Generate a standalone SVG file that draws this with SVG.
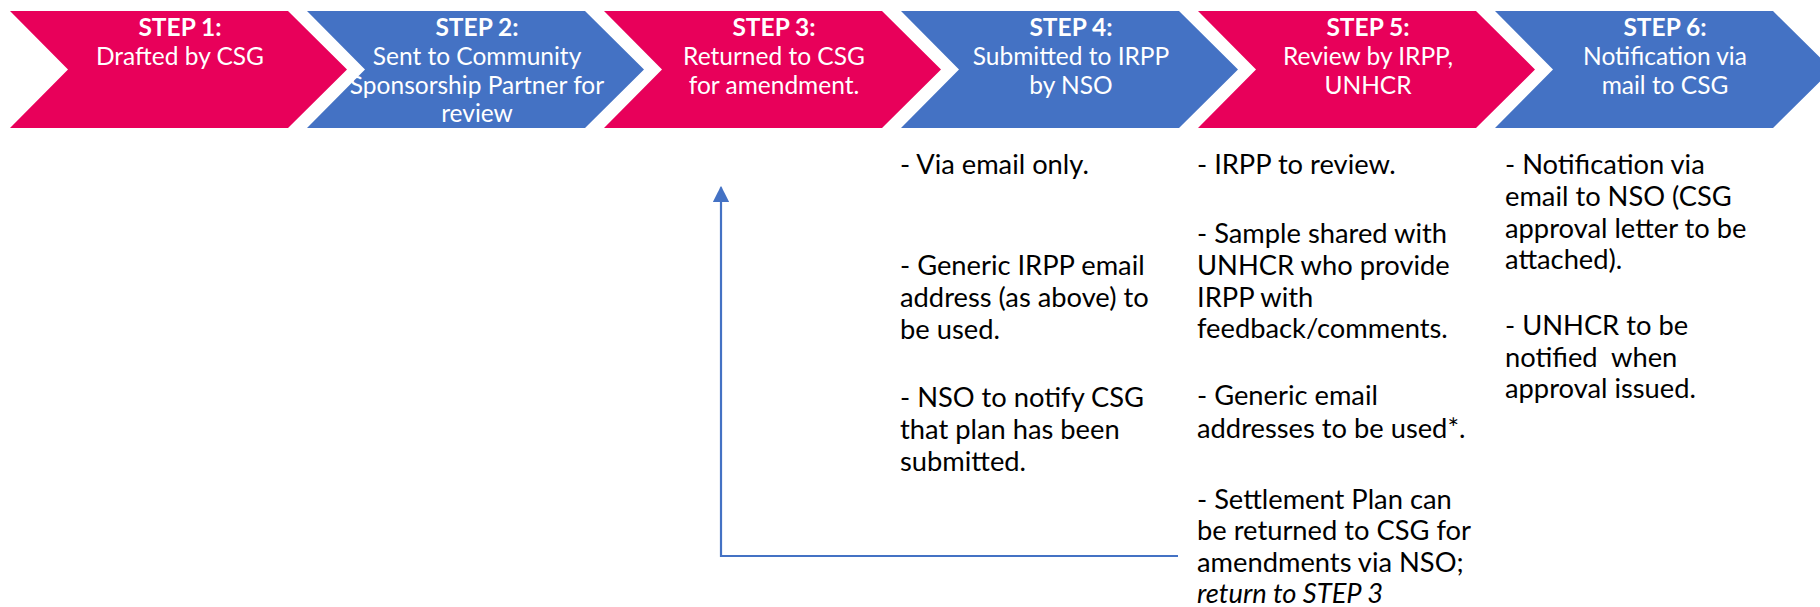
<svg xmlns="http://www.w3.org/2000/svg" width="1820" height="607" viewBox="0 0 1820 607">
  <defs>
    <style>
      .pink { fill: #E8005A; }
      .blue { fill: #4472C4; }
      .ct { font-family: Lato, "Liberation Sans", sans-serif; font-size: 24.5px; fill: #FFFFFF; text-anchor: middle; }
      .ct .b { font-weight: bold; }
      .bt { font-family: Lato, "Liberation Sans", sans-serif; font-size: 27.3px; fill: #000000; }
      .conn { fill: none; stroke: #4472C4; stroke-width: 2.2; }
    </style>
    <marker id="arr" viewBox="0 0 10 10" refX="9" refY="5" markerWidth="7.5" markerHeight="7.5" markerUnits="strokeWidth" orient="auto">
      <path d="M0,0 L10,5 L0,10 Z" fill="#4472C4"/>
    </marker>
  </defs>

  <g id="step1">
    <path class="pink" d="M10,11 L288,11 L347,69.5 L288,128 L10,128 L68,69.5 Z"/>
    <text class="ct"><tspan class="b" x="180" y="35.5">STEP 1:</tspan><tspan x="180" y="64.5">Drafted by CSG</tspan></text>
  </g>
  <g id="step2">
    <path class="blue" d="M307,11 L585,11 L644,69.5 L585,128 L307,128 L365,69.5 Z"/>
    <text class="ct"><tspan class="b" x="477" y="35.5">STEP 2:</tspan><tspan x="477" y="64.5">Sent to Community</tspan><tspan x="477" y="93.5">Sponsorship Partner for</tspan><tspan x="477" y="122">review</tspan></text>
  </g>
  <g id="step3">
    <path class="pink" d="M604,11 L882,11 L941,69.5 L882,128 L604,128 L662,69.5 Z"/>
    <text class="ct"><tspan class="b" x="774" y="35.5">STEP 3:</tspan><tspan x="774" y="64.5">Returned to CSG</tspan><tspan x="774" y="93.5">for amendment.</tspan></text>
  </g>
  <g id="step4">
    <path class="blue" d="M901,11 L1179,11 L1238,69.5 L1179,128 L901,128 L959,69.5 Z"/>
    <text class="ct"><tspan class="b" x="1071" y="35.5">STEP 4:</tspan><tspan x="1071" y="64.5">Submitted to IRPP</tspan><tspan x="1071" y="93.5">by NSO</tspan></text>
  </g>
  <g id="step5">
    <path class="pink" d="M1198,11 L1476,11 L1535,69.5 L1476,128 L1198,128 L1256,69.5 Z"/>
    <text class="ct"><tspan class="b" x="1368" y="35.5">STEP 5:</tspan><tspan x="1368" y="64.5">Review by IRPP,</tspan><tspan x="1368" y="93.5">UNHCR</tspan></text>
  </g>
  <g id="step6">
    <path class="blue" d="M1495,11 L1773,11 L1832,69.5 L1773,128 L1495,128 L1553,69.5 Z"/>
    <text class="ct"><tspan class="b" x="1665" y="35.5">STEP 6:</tspan><tspan x="1665" y="64.5">Notification via</tspan><tspan x="1665" y="93.5">mail to CSG</tspan></text>
  </g>

  <g id="notes4">
    <text class="bt">
      <tspan x="900" y="174">- Via email only.</tspan>
      <tspan x="900" y="275">- Generic IRPP email</tspan>
      <tspan x="900" y="307">address (as above) to</tspan>
      <tspan x="900" y="339">be used.</tspan>
      <tspan x="900" y="407">- NSO to notify CSG</tspan>
      <tspan x="900" y="439">that plan has been</tspan>
      <tspan x="900" y="471">submitted.</tspan>
    </text>
  </g>
  <g id="notes5">
    <text class="bt">
      <tspan x="1197" y="174">- IRPP to review.</tspan>
      <tspan x="1197" y="243">- Sample shared with</tspan>
      <tspan x="1197" y="275">UNHCR who provide</tspan>
      <tspan x="1197" y="307">IRPP with</tspan>
      <tspan x="1197" y="338">feedback/comments.</tspan>
      <tspan x="1197" y="405">- Generic email</tspan>
      <tspan x="1197" y="438">addresses to be used*.</tspan>
      <tspan x="1197" y="508.5">- Settlement Plan can</tspan>
      <tspan x="1197" y="540">be returned to CSG for</tspan>
      <tspan x="1197" y="572">amendments via NSO;</tspan>
      <tspan x="1197" y="603" font-style="italic">return to STEP 3</tspan>
    </text>
  </g>
  <g id="notes6">
    <text class="bt">
      <tspan x="1505" y="174">- Notification via</tspan>
      <tspan x="1505" y="206">email to NSO (CSG</tspan>
      <tspan x="1505" y="238">approval letter to be</tspan>
      <tspan x="1505" y="269">attached).</tspan>
      <tspan x="1505" y="335">- UNHCR to be</tspan>
      <tspan x="1505" y="367">notified&#160; when</tspan>
      <tspan x="1505" y="398">approval issued.</tspan>
    </text>
  </g>

  <g id="connectors">
    <path class="conn" d="M1178,556 L721,556 L721,187.5" marker-end="url(#arr)"/>
  </g>
</svg>
